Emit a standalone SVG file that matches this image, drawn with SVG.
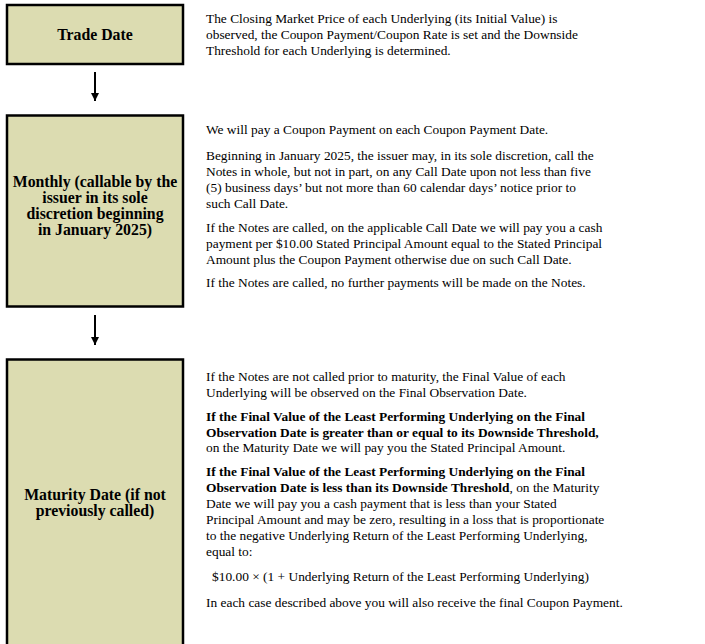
<svg xmlns="http://www.w3.org/2000/svg" width="705" height="644" viewBox="0 0 705 644">
<style>
.box{fill:#dcdcb1;stroke:#000;stroke-width:2.5}
.lbl{font-family:"Liberation Serif",serif;font-size:15.8px;font-weight:bold;text-anchor:middle;fill:#000}
.t{font-family:"Liberation Serif",serif;font-size:13.4px;fill:#000}
.b{font-weight:bold}
.conn{stroke:#000;stroke-width:2;fill:none}
</style>
<defs>
<marker id="ah" viewBox="0 0 10 10" refX="10" refY="5" markerWidth="4" markerHeight="5" markerUnits="strokeWidth" orient="auto">
<path d="M0,0 L10,5 L0,10 Z" fill="#000"/>
</marker>
</defs>
<rect width="705" height="644" fill="#fff"/>
<g id="connectors">
<line class="conn" x1="95" y1="72" x2="95" y2="101" marker-end="url(#ah)"/>
<line class="conn" x1="95" y1="315" x2="95" y2="345" marker-end="url(#ah)"/>
</g>
<g id="trade-date">
<rect class="box" x="7" y="5" width="176" height="59"/>
<text class="lbl" x="95" y="39.5">Trade Date</text>
</g>
<g id="monthly">
<rect class="box" x="7" y="115.5" width="176" height="191"/>
<text class="lbl" x="95" y="186.5">Monthly (callable by the</text>
<text class="lbl" x="95" y="202.5">issuer in its sole</text>
<text class="lbl" x="95" y="218.5">discretion beginning</text>
<text class="lbl" x="95" y="234.5">in January 2025)</text>
</g>
<g id="maturity">
<rect class="box" x="7" y="359.5" width="176" height="300"/>
<text class="lbl" x="95" y="499.5">Maturity Date (if not</text>
<text class="lbl" x="95" y="515.5">previously called)</text>
</g>
<g id="trade-date-text">
<text class="t" x="206" y="23">The Closing Market Price of each Underlying (its Initial Value) is</text>
<text class="t" x="206" y="39">observed, the Coupon Payment/Coupon Rate is set and the Downside</text>
<text class="t" x="206" y="55">Threshold for each Underlying is determined.</text>
</g>
<g id="monthly-text">
<text class="t" x="206" y="134">We will pay a Coupon Payment on each Coupon Payment Date.</text>
<text class="t" x="206" y="160">Beginning in January 2025, the issuer may, in its sole discretion, call the</text>
<text class="t" x="206" y="176">Notes in whole, but not in part, on any Call Date upon not less than five</text>
<text class="t" x="206" y="192">(5) business days’ but not more than 60 calendar days’ notice prior to</text>
<text class="t" x="206" y="208">such Call Date.</text>
<text class="t" x="206" y="232">If the Notes are called, on the applicable Call Date we will pay you a cash</text>
<text class="t" x="206" y="248">payment per $10.00 Stated Principal Amount equal to the Stated Principal</text>
<text class="t" x="206" y="264">Amount plus the Coupon Payment otherwise due on such Call Date.</text>
<text class="t" x="206" y="287">If the Notes are called, no further payments will be made on the Notes.</text>
</g>
<g id="maturity-text">
<text class="t" x="206" y="381">If the Notes are not called prior to maturity, the Final Value of each</text>
<text class="t" x="206" y="397">Underlying will be observed on the Final Observation Date.</text>
<text class="t b" x="206" y="421">If the Final Value of the Least Performing Underlying on the Final</text>
<text class="t b" x="206" y="437">Observation Date is greater than or equal to its Downside Threshold,</text>
<text class="t" x="206" y="452">on the Maturity Date we will pay you the Stated Principal Amount.</text>
<text class="t" x="206" y="476"><tspan class="b">If the Final Value of the Least Performing Underlying on the Final</tspan></text>
<text class="t" x="206" y="492"><tspan class="b">Observation Date is less than its Downside Threshold</tspan>, on the Maturity</text>
<text class="t" x="206" y="508">Date we will pay you a cash payment that is less than your Stated</text>
<text class="t" x="206" y="524">Principal Amount and may be zero, resulting in a loss that is proportionate</text>
<text class="t" x="206" y="540">to the negative Underlying Return of the Least Performing Underlying,</text>
<text class="t" x="206" y="556">equal to:</text>
<text class="t" x="212" y="581">$10.00 × (1 + Underlying Return of the Least Performing Underlying)</text>
<text class="t" x="206" y="607">In each case described above you will also receive the final Coupon Payment.</text>
</g>
</svg>
